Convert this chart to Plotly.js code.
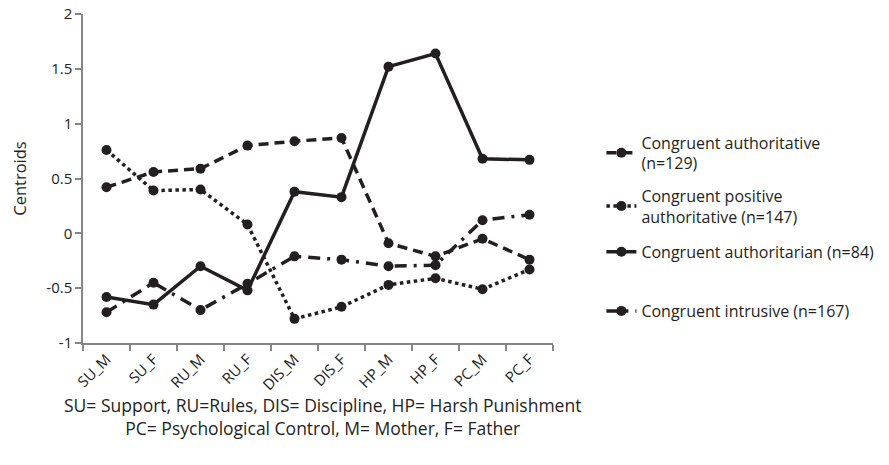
<!DOCTYPE html>
<html>
<head>
<meta charset="utf-8">
<script src="https://cdn.plot.ly/plotly-3.0.1.min.js"></script>
<style>html,body{margin:0;padding:0;background:#fff;}#chart{width:889px;height:465px;}</style>
</head>
<body>
<div id="chart"></div>
<script>
const categories = ["SU_M","SU_F","RU_M","RU_F","DIS_M","DIS_F","HP_M","HP_F","PC_M","PC_F"];
const congruentAuthoritative = [0.42, 0.56, 0.59, 0.80, 0.84, 0.87, -0.09, -0.21, -0.05, -0.24];
const congruentPositiveAuthoritative = [0.76, 0.39, 0.40, 0.08, -0.78, -0.67, -0.47, -0.41, -0.51, -0.33];
const congruentAuthoritarian = [-0.58, -0.65, -0.30, -0.52, 0.38, 0.33, 1.52, 1.64, 0.68, 0.67];
const congruentIntrusive = [-0.72, -0.45, -0.70, -0.46, -0.21, -0.24, -0.30, -0.29, 0.12, 0.17];
const seriesNames = ["Congruent authoritative<br>(n=129)", "Congruent positive<br>authoritative (n=147)", "Congruent authoritarian (n=84)", "Congruent intrusive (n=167)"];
const yTickVals = [-1, -0.5, 0, 0.5, 1, 1.5, 2];
const yTickText = ["-1", "-0.5", "0", "0.5", "1", "1.5", "2"];
const footnote = "SU= Support, RU=Rules, DIS= Discipline, HP= Harsh Punishment<br>PC= Psychological Control, M= Mother, F= Father";

const FONT = "Open Sans, sans-serif";
const INK = "#231f20";
const AXC = "#868686";
function tr(y, name, dash, lg) {
  return {
    x: categories, y: y, name: name, type: "scatter", mode: "lines+markers",
    legend: lg,
    line: {color: INK, width: 3.5, dash: dash},
    marker: {color: INK, size: 10, symbol: "circle"}
  };
}
const data = [
  tr(congruentAuthoritative, seriesNames[0], "10px,6px", "legend"),
  tr(congruentPositiveAuthoritative, seriesNames[1], "dot", "legend2"),
  tr(congruentAuthoritarian, seriesNames[2], "solid", "legend3"),
  tr(congruentIntrusive, seriesNames[3], "12px,7px,3px,7px", "legend4")
];
function leg(y) {
  return {x: 1.103, y: y, xanchor: "left", yanchor: "middle",
          font: {family: FONT, size: 16, color: INK}, bgcolor: "rgba(0,0,0,0)"};
}
const layout = {
  width: 889, height: 465,
  margin: {l: 83, r: 336, t: 14, b: 122, autoexpand: false},
  paper_bgcolor: "#fff", plot_bgcolor: "#fff",
  font: {family: FONT, color: INK, size: 14},
  showlegend: true,
  legend: leg(0.5775),
  legend2: leg(0.416),
  legend3: leg(0.277),
  legend4: leg(0.0973),
  xaxis: {
    type: "category", tickson: "boundaries", ticks: "outside", ticklen: 6,
    tickcolor: AXC, tickwidth: 1.5, tickangle: -45,
    tickfont: {family: FONT, size: 15, color: INK},
    showline: true, linecolor: AXC, linewidth: 1.5,
    showgrid: false, zeroline: false, range: [-0.5, categories.length - 0.5]
  },
  yaxis: {
    range: [-1, 2], tickvals: yTickVals, ticktext: yTickText,
    ticks: "outside", ticklen: 6, tickcolor: AXC, tickwidth: 1.5,
    showline: true, linecolor: AXC, linewidth: 1.5,
    showgrid: false, zeroline: false,
    tickfont: {family: FONT, size: 15, color: INK},
    title: {text: "Centroids", font: {family: FONT, size: 16.5, color: INK}, standoff: 16}
  },
  annotations: [{
    xref: "paper", yref: "paper", x: 0.509, y: -0.222, xanchor: "center", yanchor: "middle",
    showarrow: false, align: "center", text: footnote,
    font: {family: FONT, size: 17.5, color: INK}
  }]
};

function enforceTilt(gd) {
  const ax = gd._fullLayout.xaxis;
  const axisY = gd._fullLayout._size.t + gd._fullLayout._size.h;
  gd.querySelectorAll(".xtick text").forEach(t => {
    const tf = t.getAttribute("transform") || "";
    if (tf.indexOf("rotate") >= 0) return;
    const m = tf.match(/translate\(([-\d.]+)/);
    if (!m) return;
    const x = parseFloat(m[1]);
    const y = axisY + 14;
    t.setAttribute("text-anchor", "end");
    t.setAttribute("x", 0);
    t.setAttribute("y", y);
    t.setAttribute("transform", "translate(" + (x + 6) + ",0) rotate(-45,0," + y + ")");
  });
}
Plotly.newPlot("chart", data, layout, {displayModeBar: false}).then(gd => {
  enforceTilt(gd);
  let n = 0;
  const iv = setInterval(() => { enforceTilt(gd); if (++n > 40) clearInterval(iv); }, 100);
  gd.on("plotly_afterplot", () => enforceTilt(gd));
});
</script>
</body>
</html>
